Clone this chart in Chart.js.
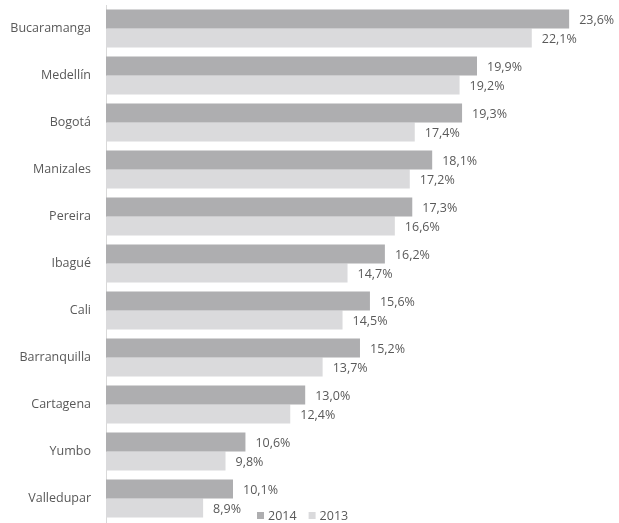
<!DOCTYPE html>
<html lang="es">
<head>
  <meta charset="UTF-8" />
  <title>Ciudades 2013 - 2014</title>
  <script src="https://cdn.jsdelivr.net/npm/chart.js"></script>
  <style>
    html, body { margin: 0; padding: 0; background: #fff; }
    #wrap { width: 619px; height: 523px; position: relative; }
  </style>
</head>
<body>
  <div id="wrap">
    <canvas id="chart"></canvas>
  </div>

  <script>
    // datos
    const ciudades = ['Bucaramanga', 'Medellín', 'Bogotá', 'Manizales', 'Pereira', 'Ibagué', 'Cali', 'Barranquilla', 'Cartagena', 'Yumbo', 'Valledupar'];
    const valores2014 = [23.6, 19.9, 19.3, 18.1, 17.3, 16.2, 15.6, 15.2, 13.0, 10.6, 10.1];
    const valores2013 = [22.1, 19.2, 17.4, 17.2, 16.6, 14.7, 14.5, 13.7, 12.4, 9.8, 8.9];
    const series = ['2014', '2013'];
    const colores = ['#aeaeb0', '#dadadc'];

    const fuente = "'Open Sans', sans-serif";
    const gris = '#595959';

    // etiquetas al final de cada barra
    const etiquetas = {
      id: 'etiquetas',
      afterDatasetsDraw(chart) {
        const ctx = chart.ctx;
        ctx.save();
        ctx.font = '12.5px ' + fuente;
        ctx.fillStyle = gris;
        ctx.textAlign = 'left';
        ctx.textBaseline = 'middle';
        chart.data.datasets.forEach((ds, i) => {
          chart.getDatasetMeta(i).data.forEach((bar, j) => {
            const txt = ds.data[j].toFixed(1).replace('.', ',') + '%';
            ctx.fillText(txt, bar.x + 10, bar.y + 1);
          });
        });
        ctx.restore();
      }
    };

    // leyenda abajo, sobre el grafico
    const leyenda = {
      id: 'leyenda',
      afterDraw(chart) {
        const ctx = chart.ctx;
        ctx.save();
        ctx.font = '12.5px ' + fuente;
        ctx.textBaseline = 'middle';
        let x = 257;
        const y = 516;
        chart.data.datasets.forEach(ds => {
          ctx.fillStyle = ds.backgroundColor;
          ctx.fillRect(x, y - 4, 7, 7);
          x += 11;
          ctx.fillStyle = gris;
          ctx.fillText(ds.label, x, y);
          x += ctx.measureText(ds.label).width + 12;
        });
        ctx.restore();
      }
    };

    new Chart(document.getElementById('chart').getContext('2d'), {
      type: 'bar',
      data: {
        labels: ciudades,
        datasets: [
          { label: series[0], data: valores2014, backgroundColor: colores[0] },
          { label: series[1], data: valores2013, backgroundColor: colores[1] }
        ]
      },
      options: {
        indexAxis: 'y',
        responsive: true,
        maintainAspectRatio: false,
        animation: false,
        categoryPercentage: 0.81,
        barPercentage: 1,
        layout: { padding: { top: 5, right: 15, bottom: 1, left: 0 } },
        plugins: {
          legend: { display: false },
          tooltip: { enabled: false }
        },
        scales: {
          x: {
            display: false,
            min: 5,
            max: 25
          },
          y: {
            afterFit(scale) {
              scale.width = 106;
              scale.paddingTop = 0;
              scale.paddingBottom = 0;
            },
            grid: { display: false, drawTicks: true, tickLength: 15 },
            border: { color: '#d9d9d9', width: 1 },
            ticks: {
              padding: 0,
              color: gris,
              font: { family: fuente, size: 12.5 }
            }
          }
        }
      },
      plugins: [etiquetas, leyenda]
    });
  </script>
</body>
</html>
